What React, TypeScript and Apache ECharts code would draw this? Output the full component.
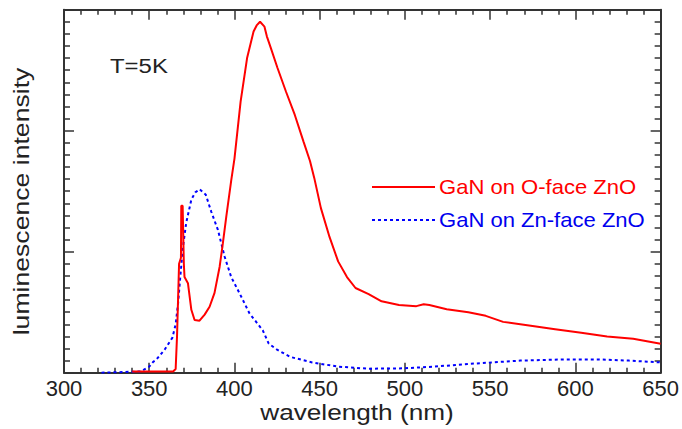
import React, { useEffect, useRef } from "react";
import * as echarts from "echarts";

const oFaceWavelength = [340, 364, 365.5, 366.3, 367.5, 368.6, 368.8, 369.6, 370.3, 370.7, 372.7, 374.7, 376.6, 379.5, 382.5, 385.4, 388.3, 391.3, 393.2, 395.2, 398.1, 400, 403.6, 407.4, 411.2, 413, 415, 417.6, 419, 421.4, 425.2, 430.3, 435.4, 440.5, 444.3, 446.8, 450.7, 455.8, 460.8, 466, 471, 478.7, 486.3, 496.5, 506.7, 511, 514.3, 524.5, 537.2, 547.4, 557.6, 572.8, 588.1, 603.4, 618.6, 633.9, 650];
const oFaceIntensity = [0.01, 0.01, 0.03, 0.3, 0.9, 0.95, 1.38, 1.38, 0.9, 0.79, 0.74, 0.52, 0.435, 0.43, 0.48, 0.545, 0.66, 0.876, 1.07, 1.29, 1.59, 1.77, 2.24, 2.6, 2.82, 2.87, 2.9, 2.86, 2.78, 2.68, 2.52, 2.32, 2.13, 1.91, 1.75, 1.61, 1.36, 1.12, 0.92, 0.79, 0.7, 0.65, 0.59, 0.56, 0.55, 0.565, 0.56, 0.525, 0.5, 0.47, 0.42, 0.39, 0.36, 0.33, 0.3, 0.28, 0.24];

const znFaceWavelength = [322, 345, 350, 352.3, 354, 359, 363.6, 365.5, 366.9, 368.2, 369.8, 371.7, 374.7, 377, 379.5, 383.2, 386.4, 390.3, 394.2, 398.1, 403, 408.8, 416.6, 420.1, 425, 432.8, 445.6, 460.8, 478.7, 499, 516.8, 542.3, 567.7, 593.2, 613.5, 631.4, 650];
const znFaceIntensity = [0, 0.01, 0.05, 0.09, 0.105, 0.19, 0.29, 0.4, 0.57, 0.79, 1.04, 1.24, 1.43, 1.49, 1.516, 1.47, 1.33, 1.18, 0.96, 0.79, 0.656, 0.49, 0.35, 0.24, 0.19, 0.13, 0.085, 0.05, 0.033, 0.036, 0.05, 0.077, 0.1, 0.11, 0.11, 0.1, 0.085];

const xMin = 300;
const xMax = 650;
const xStep = 50;
const yMin = 0;
const yMax = 3;
const yStep = 1;

const seriesNames = ["GaN on O-face ZnO", "GaN on Zn-face ZnO"];
const annotation = "T=5K";
const xTitle = "wavelength (nm)";
const yTitle = "luminescence intensity";

const FONT = "'Liberation Sans', Arial, Helvetica, sans-serif";
const AX = "#333333";

export default function App() {
  const ref = useRef<HTMLDivElement>(null);
  useEffect(() => {
    if (!ref.current) return;
    const chart = echarts.init(ref.current, undefined, { renderer: "svg" });
    const axisCommon = {
      axisLine: { show: true, onZero: false, lineStyle: { color: AX, width: 2 } },
      splitLine: { show: false },
    };
    const xCommon = {
      type: "value",
      min: xMin,
      max: xMax,
      interval: xStep,
      ...axisCommon,
      axisTick: { show: true, inside: true, length: 10, lineStyle: { color: AX, width: 1.5 } },
      minorTick: { show: true, splitNumber: 5, length: 5, lineStyle: { color: AX, width: 1.5 } },
    };
    const yCommon = {
      type: "value",
      min: yMin,
      max: yMax,
      interval: yStep,
      ...axisCommon,
      axisLabel: { show: false },
      axisTick: { show: true, inside: true, length: 10, lineStyle: { color: AX, width: 1.5 } },
      minorTick: { show: true, splitNumber: 10, length: 6, lineStyle: { color: AX, width: 1.5 } },
    };
    chart.setOption({
      animation: false,
      backgroundColor: "#ffffff",
      grid: { left: 64, right: 20, top: 9.7, bottom: 56.3, containLabel: false },
      xAxis: [
        {
          ...xCommon,
          position: "bottom",
          axisLabel: { show: true, color: "#222", fontSize: 22, fontFamily: FONT, margin: 5 },
        },
        { ...xCommon, position: "top", axisLabel: { show: false } },
      ],
      yAxis: [
        { ...yCommon, position: "left" },
        { ...yCommon, position: "right" },
      ],
      series: [
        {
          name: seriesNames[0],
          type: "line",
          xAxisIndex: 0,
          yAxisIndex: 0,
          data: oFaceWavelength.map((w, i) => [w, oFaceIntensity[i]]),
          showSymbol: false,
          lineStyle: { color: "#ff0000", width: 2 },
          z: 3,
        },
        {
          name: seriesNames[1],
          type: "line",
          xAxisIndex: 0,
          yAxisIndex: 0,
          data: znFaceWavelength.map((w, i) => [w, znFaceIntensity[i]]),
          showSymbol: false,
          lineStyle: { color: "#0000ff", width: 2, type: [3, 3] },
          z: 2,
        },
      ],
      graphic: [
        {
          type: "text",
          x: 110,
          y: 66,
          scaleX: 1.14,
          style: { text: annotation, fill: "#222", fontSize: 21, fontFamily: FONT, textAlign: "left", textVerticalAlign: "middle" },
        },
        {
          type: "text",
          x: 357,
          y: 412,
          scaleX: 1.19,
          style: { text: xTitle, fill: "#222", fontSize: 22, fontFamily: FONT, textAlign: "center", textVerticalAlign: "middle" },
        },
        {
          type: "text",
          x: 21,
          y: 201.5,
          rotation: Math.PI / 2,
          scaleX: 1.21,
          style: { text: yTitle, fill: "#222", fontSize: 22, fontFamily: FONT, textAlign: "center", textVerticalAlign: "middle" },
        },
        {
          type: "line",
          shape: { x1: 372, y1: 187, x2: 435, y2: 187 },
          style: { stroke: "#ff0000", lineWidth: 2 },
        },
        {
          type: "text",
          x: 439,
          y: 187,
          scaleX: 1.05,
          style: { text: seriesNames[0], fill: "#ff0000", fontSize: 21, fontFamily: FONT, textAlign: "left", textVerticalAlign: "middle" },
        },
        {
          type: "line",
          shape: { x1: 372, y1: 220, x2: 435, y2: 220 },
          style: { stroke: "#0000ff", lineWidth: 2, lineDash: [3, 3] },
        },
        {
          type: "text",
          x: 439,
          y: 220.5,
          scaleX: 1.05,
          style: { text: seriesNames[1], fill: "#0000ee", fontSize: 21, fontFamily: FONT, textAlign: "left", textVerticalAlign: "middle" },
        },
      ],
    });
    return () => chart.dispose();
  }, []);
  return <div ref={ref} style={{ width: 682, height: 429, position: "absolute", left: 0, top: 0 }} />;
}
